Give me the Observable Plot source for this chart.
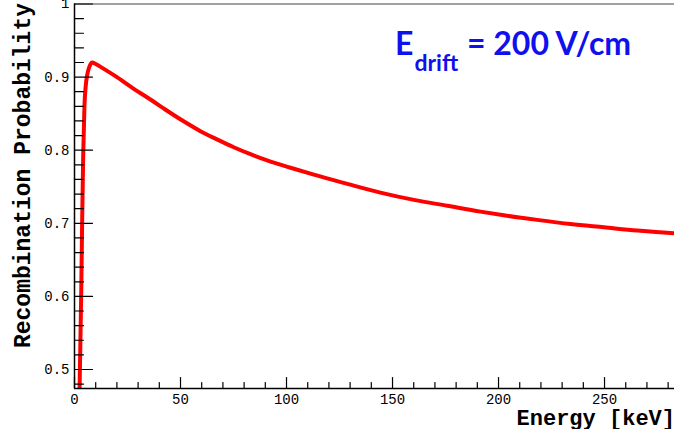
<!DOCTYPE html>
<html>
<head>
<meta charset="utf-8">
<script src="https://cdn.jsdelivr.net/npm/d3@7"></script>
<script src="https://cdn.jsdelivr.net/npm/@observablehq/plot@0.6"></script>
<style>
  html, body { margin: 0; padding: 0; background: #fff; }
  #chart svg { display: block; overflow: visible; }
</style>
</head>
<body>
<div id="chart"></div>
<script>
// Recombination probability as a function of deposited energy (E_drift = 200 V/cm)
const energyKeV = [2.0, 2.5, 3.2, 3.6, 4.1, 4.7, 5.3, 6.0, 7.0, 8.3, 10.0, 12.3, 20, 28, 36, 43.7, 51.5, 59.4, 67.2, 75.1, 83.0, 90.9, 101.9, 112.9, 128.6, 144.3, 160.1, 175.8, 191.5, 202.5, 218.2, 234.0, 249.7, 265.4, 281.1, 290];
const recombProb = [0.40, 0.492, 0.610, 0.701, 0.792, 0.861, 0.888, 0.903, 0.914, 0.920, 0.918, 0.914, 0.900, 0.884, 0.869, 0.854, 0.8395, 0.826, 0.8148, 0.804, 0.7945, 0.786, 0.776, 0.7665, 0.754, 0.742, 0.732, 0.724, 0.716, 0.711, 0.7047, 0.699, 0.6945, 0.690, 0.6866, 0.6855];

// Axis ticks and labels
const xMajorTicks = [0, 50, 100, 150, 200, 250];
const xTickLabels = ["0", "50", "100", "150", "200", "250"];
const xMinorTicks = [10, 20, 30, 40, 60, 70, 80, 90, 110, 120, 130, 140, 160, 170, 180, 190, 210, 220, 230, 240, 260, 270, 280];
const yMajorTicks = [0.5, 0.6, 0.7, 0.8, 0.9, 1];
const yTickLabels = ["0.5", "0.6", "0.7", "0.8", "0.9", "1"];
const yMinorTicks = [0.48, 0.52, 0.54, 0.56, 0.58, 0.62, 0.64, 0.66, 0.68, 0.72, 0.74, 0.76, 0.78, 0.82, 0.84, 0.86, 0.88, 0.92, 0.94, 0.96, 0.98];
const xDomain = [0, 283];
const yDomain = [0.474, 1];

const xTitle = "Energy [keV]";
const yTitle = "Recombination Probability";
const fieldSymbol = "E";
const fieldSub = "drift";
const fieldValue = " = 200 V/cm";

const data = energyKeV.map((e, i) => ({energy: e, prob: recombProb[i]}));

// inward-pointing tick stroke drawn by Plot.vector
const tickShape = {draw(context, l) { context.moveTo(0, 0); context.lineTo(0, -l); }};

const monoFont = "'Liberation Mono', 'Courier New', monospace";

const svg = Plot.plot({
  width: 674,
  height: 429,
  marginLeft: 74,
  marginRight: 0,
  marginTop: 3.5,
  marginBottom: 41,
  style: {background: "#fff", fontFamily: monoFont},
  x: {domain: xDomain},
  y: {domain: yDomain},
  marks: [
    Plot.ruleY([yDomain[1]], {stroke: "#444", strokeWidth: 1.2}),
    Plot.line(data, {x: "energy", y: "prob", stroke: "#ff0000", strokeWidth: 4, curve: "monotone-x", clip: true}),
    // minor and major ticks pointing into the frame
    Plot.vector(yMinorTicks, {y: d => d, frameAnchor: "left", length: 9, rotate: 90, anchor: "start", shape: tickShape, stroke: "#000", strokeWidth: 1.2}),
    Plot.vector(yMajorTicks, {y: d => d, frameAnchor: "left", length: 18, rotate: 90, anchor: "start", shape: tickShape, stroke: "#000", strokeWidth: 1.2}),
    Plot.vector(xMinorTicks, {x: d => d, frameAnchor: "bottom", length: 6, rotate: 0, anchor: "start", shape: tickShape, stroke: "#000", strokeWidth: 1.2}),
    Plot.vector(xMajorTicks, {x: d => d, frameAnchor: "bottom", length: 11, rotate: 0, anchor: "start", shape: tickShape, stroke: "#000", strokeWidth: 1.2}),
    Plot.axisY({ticks: yMajorTicks, tickSize: 0, tickPadding: 5, tickFormat: d => yTickLabels[yMajorTicks.indexOf(d)], label: null, fontSize: 14, fill: "#000"}),
    Plot.axisX({ticks: xMajorTicks, tickSize: 0, tickPadding: 6, tickFormat: d => xTickLabels[xMajorTicks.indexOf(d)], label: null, fontSize: 14, fill: "#000"}),
    Plot.ruleX([xDomain[0]], {stroke: "#000", strokeWidth: 1.5}),
    Plot.ruleY([yDomain[0]], {stroke: "#000", strokeWidth: 1.5})
  ]
});

const root = d3.select(svg);

// axis titles (right/top aligned)
root.append("text")
  .attr("x", 675).attr("y", 425)
  .attr("text-anchor", "end")
  .style("font-family", monoFont).style("font-weight", "bold").style("font-size", "22px")
  .attr("fill", "#000")
  .text(xTitle);

root.append("text")
  .attr("transform", "translate(30,3) rotate(-90)")
  .attr("text-anchor", "end")
  .style("font-family", monoFont).style("font-weight", "bold").style("font-size", "23px")
  .attr("fill", "#000")
  .text(yTitle);

// drift field annotation
const ann = root.append("text")
  .attr("x", 395).attr("y", 55)
  .attr("text-anchor", "start")
  .style("font-family", "Lato, 'Open Sans', sans-serif").style("font-weight", "bold")
  .attr("fill", "#1010ee");
ann.append("tspan").style("font-size", "32px").text(fieldSymbol);
ann.append("tspan").style("font-size", "23px").attr("dy", 16).attr("dx", 1).text(fieldSub);
ann.append("tspan").style("font-size", "32px").attr("dy", -16).attr("dx", 1).text(fieldValue);

document.getElementById("chart").append(svg);
</script>
</body>
</html>
